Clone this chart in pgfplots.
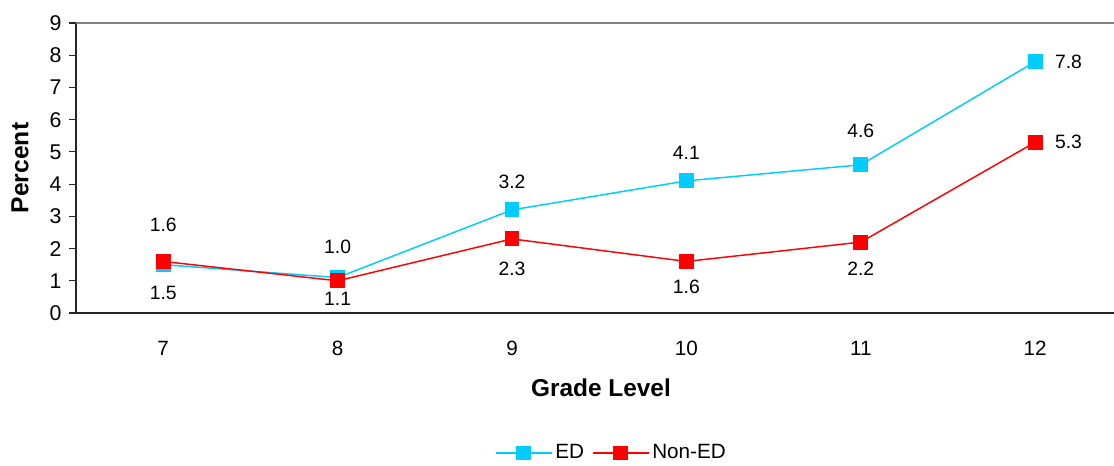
\documentclass[border=0pt]{standalone}
\usepackage{pgfplots}
\usepackage{pgfplotstable}
\pgfplotsset{compat=1.18}
\usepackage{fontspec}
\setmainfont{Liberation Sans}
\definecolor{edc}{RGB}{0,204,255}
\definecolor{nedc}{RGB}{255,0,0}
\pgfplotstableread{
x y lab dy
7 1.6 1.6 27.5
8 1.0 1.0 25.5
9 3.2 3.2 21
10 4.1 4.1 20.7
11 4.6 4.6 25.2
7 1.5 1.5 -21.5
8 1.1 1.1 -16
9 2.3 2.3 -22.5
10 1.6 1.6 -19
11 2.2 2.2 -20.3
}\labtab
\begin{document}
\fontsize{14}{17}\selectfont
\begin{tikzpicture}
\begin{axis}[
  at={(57pt,114pt)}, anchor=south west,
  scale only axis, width=784.8pt, height=217.5pt,
  xmin=6.5, xmax=12.5, ymin=0, ymax=9,
  axis lines=left, axis line style={-, line width=0.9pt, black!85},
  xtick={7,8,9,10,11,12}, ytick={0,1,...,9},
  major x tick style={draw=none},
  tick align=outside, major tick length=5pt,
  major y tick style={line width=0.9pt, black!85},
  /pgf/number format/assume math mode=true,
  xticklabel style={yshift=-11pt, font=\fontsize{15.5}{18}\selectfont},
  yticklabel style={xshift=-1pt, font=\fontsize{16}{19}\selectfont},
  xlabel={\textbf{Grade Level}},
  xlabel style={at={(axis description cs:0.5017,-0.2586)}, anchor=center, font=\fontsize{18.3}{22}\selectfont},
  ylabel={\textbf{Percent}},
  ylabel style={at={(axis description cs:-0.0535,0.5)}, anchor=center, rotate=0, font=\fontsize{18.5}{22}\selectfont},
  legend columns=2,
  legend style={draw=none, at={(axis description cs:0.512,-0.483)}, anchor=center, font=\fontsize{15.5}{18}\selectfont, /tikz/every even column/.append style={column sep=4pt}},
  legend image code/.code={\draw[mark repeat=2,mark phase=2,#1] plot coordinates {(0cm,0cm) (0.74cm,0cm) (1.48cm,0cm)};},
  clip=false,
]
\addplot[edc, line width=1.1pt, mark=square*, mark size=5pt, mark options={solid}] coordinates {(7,1.5) (8,1.1) (9,3.2) (10,4.1) (11,4.6) (12,7.8)};
\addlegendentry{ED}
\addplot[nedc, line width=1.1pt, mark=square*, mark size=5pt, mark options={solid}] coordinates {(7,1.6) (8,1.0) (9,2.3) (10,1.6) (11,2.2) (12,5.3)};
\addlegendentry{Non-ED}
% labels above/below
\addplot[draw=none, forget plot, point meta=explicit symbolic,
  visualization depends on={\thisrow{dy}\as\labdy},
  nodes near coords, nodes near coords style={anchor=center, yshift=\labdy*1pt, text=black, font=\fontsize{14.5}{17}\selectfont}]
  table[x=x, y=y, meta=lab] {\labtab};
% labels right
\addplot[draw=none, forget plot, point meta=explicit symbolic, nodes near coords, nodes near coords style={anchor=west, xshift=10pt, yshift=0pt, text=black, font=\fontsize{14.5}{17}\selectfont}] coordinates {(12,7.8)[7.8] (12,5.3)[5.3]};
\draw[gray, line width=0.9pt] (axis cs:6.5,9) -- (axis cs:12.5,9);
\end{axis}
\pgfresetboundingbox
\useasboundingbox (0,0) rectangle (835.5pt,348.75pt);
\end{tikzpicture}
\end{document}
